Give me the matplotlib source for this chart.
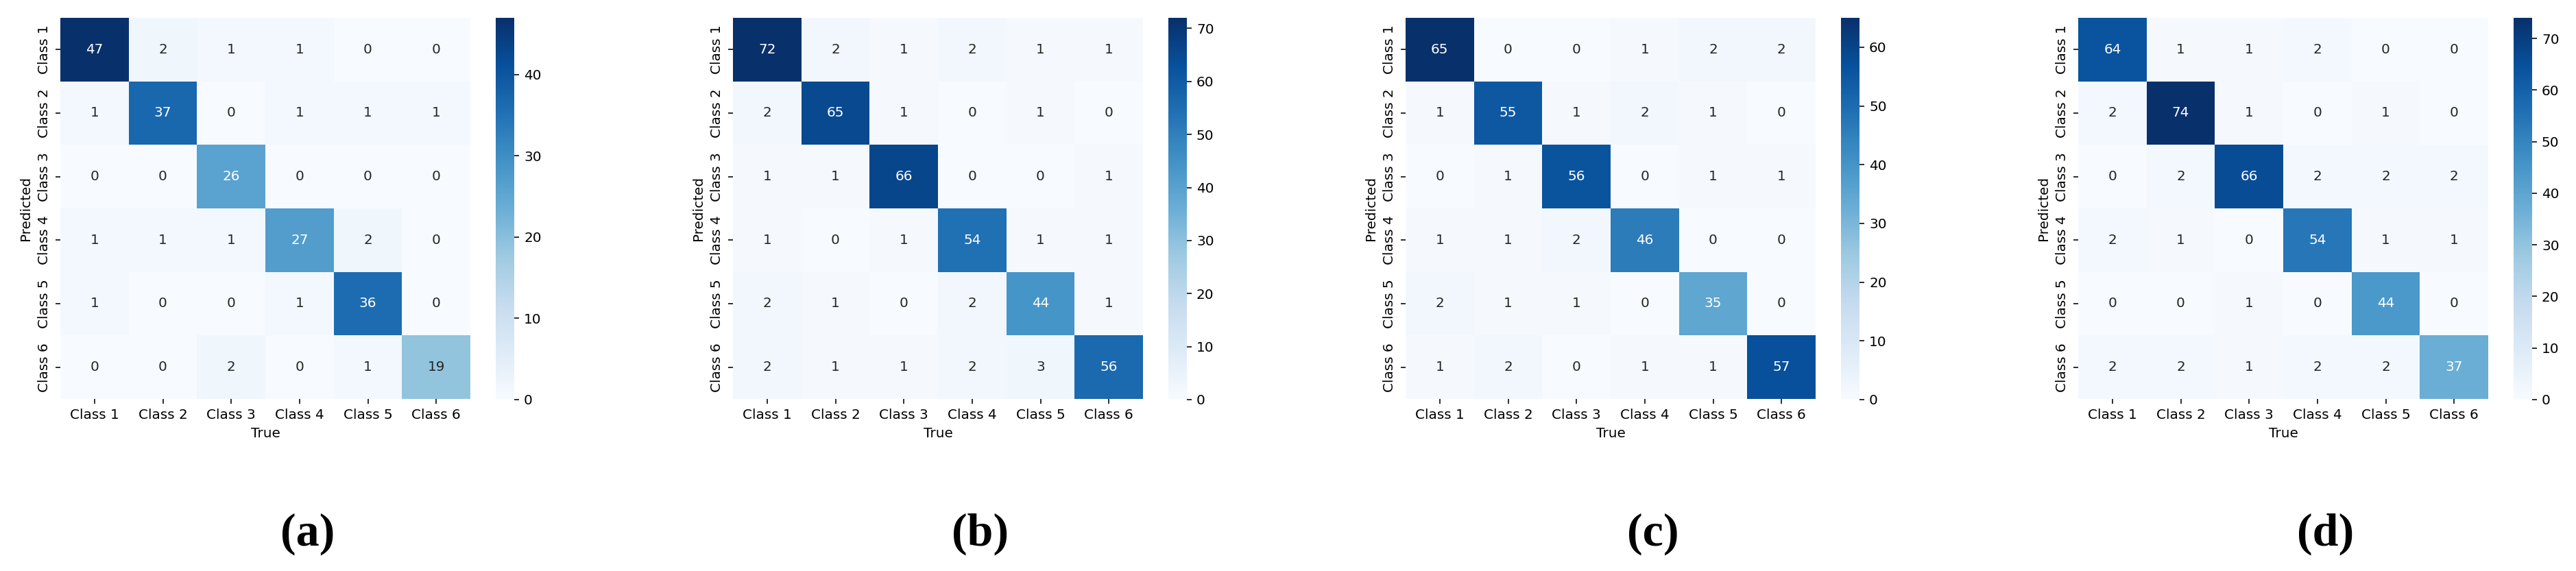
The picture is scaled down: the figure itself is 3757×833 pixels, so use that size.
import numpy as np
import matplotlib
matplotlib.use('Agg')
import matplotlib.pyplot as plt
import seaborn as sns

classes = ['Class 1', 'Class 2', 'Class 3', 'Class 4', 'Class 5', 'Class 6']
captions = ['(a)', '(b)', '(c)', '(d)']

cm_a = [[47, 2, 1, 1, 0, 0],
        [1, 37, 0, 1, 1, 1],
        [0, 0, 26, 0, 0, 0],
        [1, 1, 1, 27, 2, 0],
        [1, 0, 0, 1, 36, 0],
        [0, 0, 2, 0, 1, 19]]

cm_b = [[72, 2, 1, 2, 1, 1],
        [2, 65, 1, 0, 1, 0],
        [1, 1, 66, 0, 0, 1],
        [1, 0, 1, 54, 1, 1],
        [2, 1, 0, 2, 44, 1],
        [2, 1, 1, 2, 3, 56]]

cm_c = [[65, 0, 0, 1, 2, 2],
        [1, 55, 1, 2, 1, 0],
        [0, 1, 56, 0, 1, 1],
        [1, 1, 2, 46, 0, 0],
        [2, 1, 1, 0, 35, 0],
        [1, 2, 0, 1, 1, 57]]

cm_d = [[64, 1, 1, 2, 0, 0],
        [2, 74, 1, 0, 1, 0],
        [0, 2, 66, 2, 2, 2],
        [2, 1, 0, 54, 1, 1],
        [0, 0, 1, 0, 44, 0],
        [2, 2, 1, 2, 2, 37]]

W, H = 3757, 833
DPI = 144
fig = plt.figure(figsize=(W / DPI, H / DPI), dpi=DPI)

step = 981
for i, cm in enumerate([cm_a, cm_b, cm_c, cm_d]):
    x0 = 88 + step * i
    ax = fig.add_axes([x0 / W, 1 - 582 / H, 598 / W, 556 / H])
    cax = fig.add_axes([(x0 + 635) / W, 1 - 583 / H, 27 / W, 557 / H])
    sns.heatmap(np.array(cm), annot=True, fmt='d', cmap='Blues',
                xticklabels=classes, yticklabels=classes, ax=ax, cbar_ax=cax)
    ax.set_xlabel('True')
    ax.set_ylabel('Predicted')
    fig.text((x0 + 361) / W, 1 - 779 / H, captions[i], ha='center', va='center',
             fontsize=34, fontweight='bold', family='Liberation Serif')

fig.savefig('out.png', dpi=DPI)
